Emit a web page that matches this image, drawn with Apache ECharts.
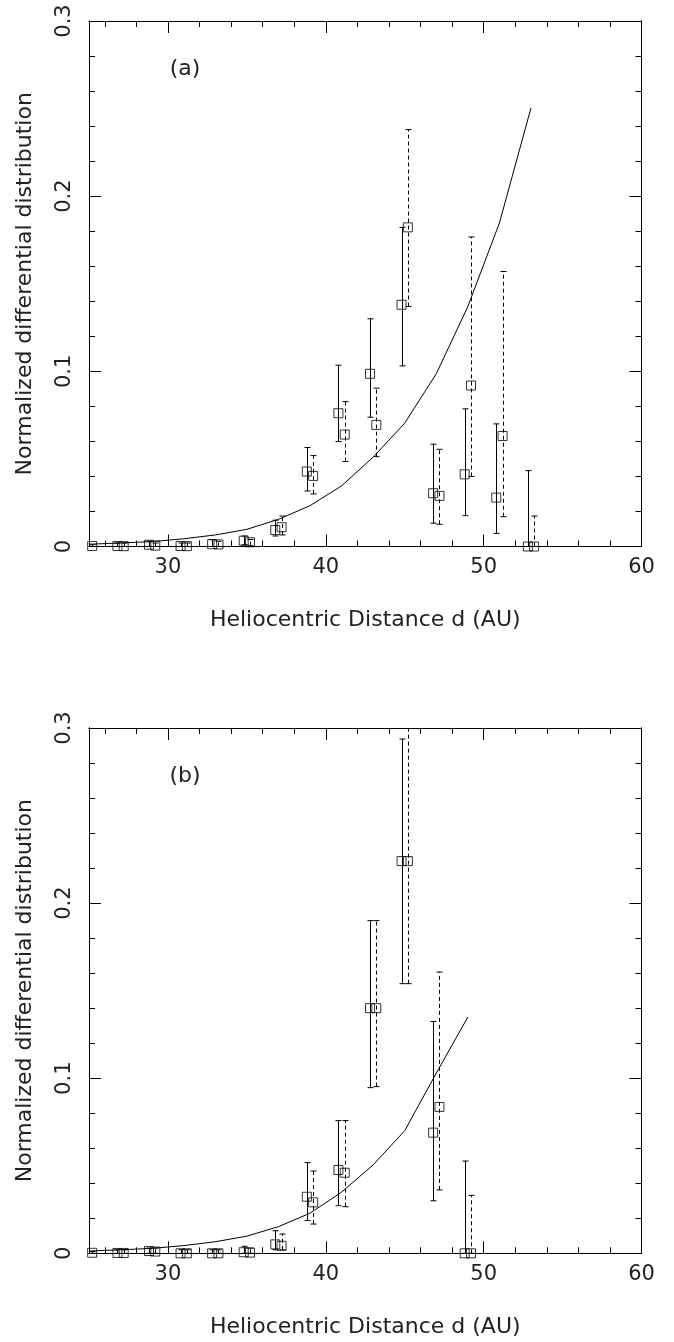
<!DOCTYPE html>
<html><head><meta charset="utf-8">
<script src="https://cdn.jsdelivr.net/npm/echarts@6/dist/echarts.min.js"></script>
<style>html,body{margin:0;padding:0;background:#fff;overflow:hidden}#c{width:674px;height:1342px}</style>
</head><body><div id="c"></div>
<script>
// ---- tick values ----
const xMajorTicks = [30, 40, 50, 60];
const xMinorTicks = [26, 28, 32, 34, 36, 38, 42, 44, 46, 48, 52, 54, 56, 58];
const yMajorTicks = [0, 0.1, 0.2, 0.3];
const yMinorTicks = [0.02, 0.04, 0.06, 0.08, 0.12, 0.14, 0.16, 0.18, 0.22, 0.24, 0.26, 0.28];

// ---- panel (a) ----
const aSolidD   = [24.8, 26.8, 28.8, 30.8, 32.8, 34.8, 36.8, 38.8, 40.8, 42.8, 44.8, 46.8, 48.8, 50.8, 52.8];
const aSolidV   = [0.0003, 0.0003, 0.001, 0.0003, 0.0013, 0.0033, 0.0094, 0.0428, 0.0761, 0.0986, 0.138, 0.0304, 0.0412, 0.0279, 0];
const aSolidLo  = [0, 0, 0, 0, 0, 0.001, 0.006, 0.0317, 0.0599, 0.0738, 0.1031, 0.0133, 0.0176, 0.0075, 0];
const aSolidHi  = [0.001, 0.002, 0.003, 0.002, 0.004, 0.006, 0.015, 0.0565, 0.1035, 0.130, 0.1822, 0.0584, 0.0786, 0.070, 0.0433];
const aDashD    = [25.2, 27.2, 29.2, 31.2, 33.2, 35.2, 37.2, 39.2, 41.2, 43.2, 45.2, 47.2, 49.2, 51.2, 53.2];
const aDashV    = [0.0003, 0.0002, 0.0005, 0.0002, 0.0012, 0.0024, 0.011, 0.0403, 0.0639, 0.0694, 0.1822, 0.0289, 0.0919, 0.0631, 0];
const aDashLo   = [0, 0, 0, 0, 0, 0.0005, 0.0066, 0.030, 0.0485, 0.0513, 0.137, 0.0127, 0.040, 0.017, 0];
const aDashHi   = [0.001, 0.002, 0.002, 0.002, 0.003, 0.004, 0.0174, 0.0519, 0.0827, 0.0904, 0.238, 0.0555, 0.1767, 0.157, 0.0174];
const aCurveD   = [25, 27, 29, 31, 33, 35, 37, 39, 41, 43, 45, 47, 49, 51, 53];
const aCurveV   = [0.0013, 0.0020, 0.0028, 0.0044, 0.0066, 0.0098, 0.0155, 0.0233, 0.0346, 0.051, 0.0704, 0.0986, 0.137, 0.1847, 0.2504];

// ---- panel (b) ----
const bSolidD   = [24.8, 26.8, 28.8, 30.8, 32.8, 34.8, 36.8, 38.8, 40.8, 42.8, 44.8, 46.8, 48.8];
const bSolidV   = [0.0003, 0.0002, 0.0013, 0, 0, 0.0006, 0.0051, 0.0323, 0.0476, 0.140, 0.224, 0.0689, 0];
const bSolidLo  = [0, 0, 0, 0, 0, 0, 0.002, 0.0187, 0.0272, 0.0946, 0.154, 0.030, 0];
const bSolidHi  = [0.001, 0.002, 0.003, 0.002, 0.002, 0.004, 0.0129, 0.0518, 0.0758, 0.19, 0.2937, 0.1324, 0.0527];
const bDashD    = [25.2, 27.2, 29.2, 31.2, 33.2, 35.2, 37.2, 39.2, 41.2, 43.2, 45.2, 47.2, 49.2];
const bDashV    = [0.0003, 0.0002, 0.001, 0, 0, 0.0004, 0.0043, 0.0291, 0.046, 0.140, 0.224, 0.0836, 0];
const bDashLo   = [0, 0, 0, 0, 0, 0, 0.002, 0.0167, 0.0266, 0.0952, 0.154, 0.0362, 0];
const bDashHi   = [0.001, 0.002, 0.003, 0.002, 0.002, 0.003, 0.011, 0.047, 0.0758, 0.19, 0.31, 0.1606, 0.0331];
const bCurveD   = [25, 27, 29, 31, 33, 35, 37, 39, 41, 43, 45, 47, 49];
const bCurveV   = [0.0013, 0.0020, 0.0028, 0.0044, 0.0066, 0.0098, 0.0152, 0.0229, 0.0349, 0.0505, 0.070, 0.1029, 0.1349];

const xTitle = 'Heliocentric Distance d (AU)';
const yTitle = 'Normalized differential distribution';
const panelLabels = ['(a)', '(b)'];

const FONT = 'DejaVu Sans';
const TXT = '#222';
const grids = [
  {left: 89, top: 21, width: 552.5, height: 525.5},
  {left: 89, top: 728, width: 552.5, height: 525.3}
];

const xAxes = [], yAxes = [];
grids.forEach((g, gi) => {
  const lineS = {show: true, onZero: false, lineStyle: {color: '#000', width: 1}};
  ['bottom', 'top'].forEach(pos => {
    [[xMajorTicks, 12], [xMinorTicks, 6]].forEach(([vals, len], k) => {
      const main = pos === 'bottom' && k === 0;
      xAxes.push({
        gridIndex: gi, type: 'value', min: 25, max: 60, position: pos,
        axisLine: lineS, splitLine: {show: false},
        axisTick: {show: true, inside: true, length: len, customValues: vals, lineStyle: {color: '#000', width: 1}},
        axisLabel: main ? {show: true, customValues: xMajorTicks, margin: 11, fontSize: 21, color: TXT, fontFamily: FONT, showMinLabel: true, showMaxLabel: true} : {show: false},
        name: main ? xTitle : '', nameLocation: 'middle', nameGap: 63,
        nameTextStyle: {fontSize: 22, color: TXT, fontFamily: FONT}
      });
    });
  });
  ['left', 'right'].forEach(pos => {
    [[yMajorTicks, 12], [yMinorTicks, 6]].forEach(([vals, len], k) => {
      const main = pos === 'left' && k === 0;
      yAxes.push({
        gridIndex: gi, type: 'value', min: 0, max: 0.3, position: pos,
        axisLine: lineS, splitLine: {show: false},
        axisTick: {show: true, inside: true, length: len, customValues: vals, lineStyle: {color: '#000', width: 1}},
        axisLabel: main ? {show: true, customValues: yMajorTicks, rotate: 90, margin: 14, fontSize: 21, color: TXT, fontFamily: FONT, showMinLabel: true, showMaxLabel: true} : {show: false},
        name: main ? yTitle : '', nameLocation: 'middle', nameGap: 53, nameRotate: 90,
        nameTextStyle: {fontSize: 22, color: TXT, fontFamily: FONT}
      });
    });
  });
});

function errSeries(gi, xs, lo, hi, dashed) {
  return {
    type: 'custom', xAxisIndex: gi * 4, yAxisIndex: gi * 4, clip: true, silent: true,
    encode: {x: 0, y: [1, 2]},
    data: xs.map((x, i) => [x, lo[i], hi[i]]),
    renderItem(params, api) {
      const x = api.value(0);
      const p1 = api.coord([x, api.value(1)]);
      const p2 = api.coord([x, api.value(2)]);
      const cx = Math.round(p1[0]) + 0.5;
      const capS = {stroke: '#000', lineWidth: 1};
      return {type: 'group', children: [
        {type: 'line', shape: {x1: cx, y1: p1[1], x2: cx, y2: p2[1]}, style: {stroke: '#000', lineWidth: 1, lineDash: dashed ? [4, 3] : null}},
        {type: 'line', shape: {x1: cx - 3, y1: p1[1], x2: cx + 3, y2: p1[1]}, style: capS},
        {type: 'line', shape: {x1: cx - 3, y1: p2[1], x2: cx + 3, y2: p2[1]}, style: capS}
      ]};
    }
  };
}
function pts(gi, xs, vs) {
  return {
    type: 'scatter', xAxisIndex: gi * 4, yAxisIndex: gi * 4, clip: true, silent: true,
    symbol: 'rect', symbolSize: 9,
    itemStyle: {color: 'rgba(0,0,0,0)', borderColor: '#000', borderWidth: 1},
    data: xs.map((x, i) => [x, vs[i]])
  };
}
function curve(gi, xs, vs) {
  return {
    type: 'line', xAxisIndex: gi * 4, yAxisIndex: gi * 4, clip: true, silent: true,
    showSymbol: false, symbol: 'none', lineStyle: {color: '#000', width: 1},
    data: xs.map((x, i) => [x, vs[i]])
  };
}

const option = {
  animation: false,
  backgroundColor: '#fff',
  grid: grids.map(g => Object.assign({containLabel: false}, g)),
  xAxis: xAxes,
  yAxis: yAxes,
  graphic: panelLabels.map((t, i) => ({
    type: 'text', x: 185, y: grids[i].top + 48,
    style: {text: t, textAlign: 'center', textVerticalAlign: 'middle', fontSize: 22, fontFamily: FONT, fill: TXT}
  })),
  series: [
    curve(0, aCurveD, aCurveV),
    errSeries(0, aSolidD, aSolidLo, aSolidHi, false),
    errSeries(0, aDashD, aDashLo, aDashHi, true),
    pts(0, aSolidD, aSolidV),
    pts(0, aDashD, aDashV),
    curve(1, bCurveD, bCurveV),
    errSeries(1, bSolidD, bSolidLo, bSolidHi, false),
    errSeries(1, bDashD, bDashLo, bDashHi, true),
    pts(1, bSolidD, bSolidV),
    pts(1, bDashD, bDashV)
  ]
};
const chart = echarts.init(document.getElementById('c'), null, {renderer: 'canvas'});
chart.setOption(option);
</script></body></html>
